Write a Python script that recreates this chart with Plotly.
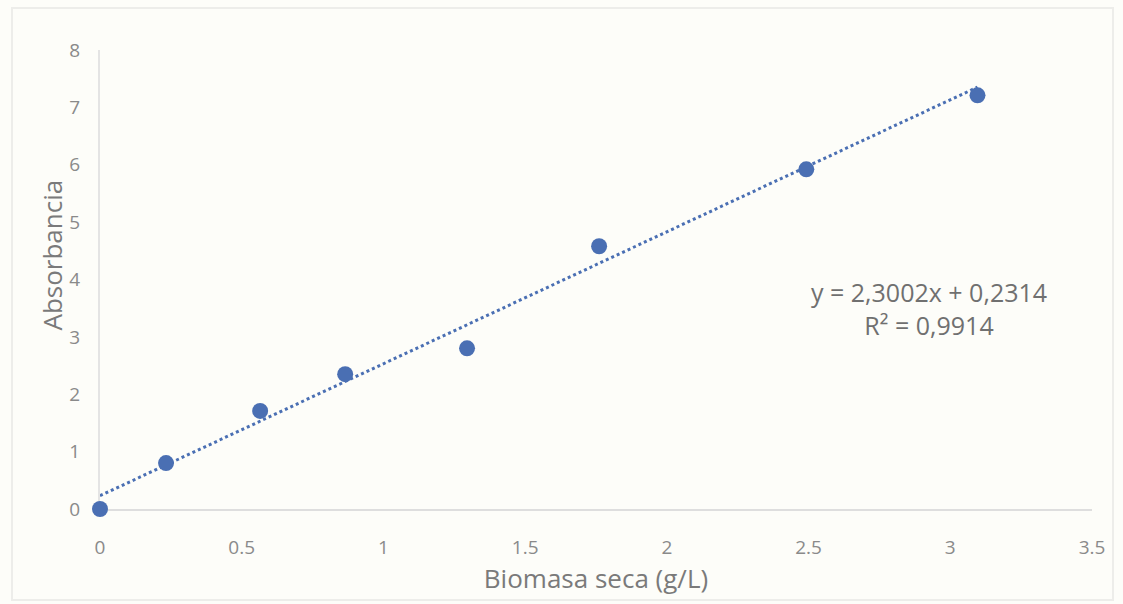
import plotly.graph_objects as go
import numpy as np

# Data
biomasa = [0.0, 0.233, 0.565, 0.865, 1.295, 1.761, 2.492, 3.096]
absorbancia = [0.0, 0.80, 1.71, 2.35, 2.80, 4.58, 5.92, 7.21]
slope, intercept = 2.3002, 0.2314
x_ticks = [0, 0.5, 1, 1.5, 2, 2.5, 3, 3.5]
y_ticks = [0, 1, 2, 3, 4, 5, 6, 7, 8]

blue = "#4A6FB3"
font = "Open Sans"

trend_x = np.array([min(biomasa), max(biomasa)])
trend_y = slope * trend_x + intercept

fig = go.Figure()
fig.add_trace(go.Scatter(x=trend_x, y=trend_y, mode="lines",
                         line=dict(color=blue, width=3, dash="dot"),
                         showlegend=False, hoverinfo="skip", cliponaxis=False))
fig.add_trace(go.Scatter(x=biomasa, y=absorbancia, mode="markers",
                         marker=dict(color=blue, size=16),
                         showlegend=False, cliponaxis=False))

fig.add_annotation(x=0.836, y=0.436, xref="paper", yref="paper",
                   xanchor="center", yanchor="middle",
                   text="y = 2,3002x + 0,2314<br>R² = 0,9914", showarrow=False,
                   font=dict(family=font, size=25, color="#707070"), align="center")

# y-axis title placed slightly above centre, as in the reference
fig.add_annotation(x=-0.048, y=0.553, xref="paper", yref="paper",
                   xanchor="center", yanchor="middle", textangle=-90,
                   text="Absorbancia", showarrow=False,
                   font=dict(family=font, size=26, color="#7a7a7a"))

fig.add_shape(type="rect", xref="paper", yref="paper",
              x0=-0.0887, x1=1.0212, y0=-0.198, y1=1.0915,
              line=dict(color="#ededea", width=2), layer="below")

fig.update_layout(
    width=1123, height=604,
    margin=dict(l=100, r=31, t=50, b=95),
    paper_bgcolor="#fdfdf9", plot_bgcolor="#fdfdf9",
    font=dict(family=font, color="#888888"),
    xaxis=dict(range=[0, 3.5], tickvals=x_ticks, ticktext=[str(v) for v in x_ticks],
               showgrid=False, zeroline=False, showline=True, linecolor="#dedede", linewidth=2,
               layer="below traces",
               ticks="outside", ticklen=20, tickcolor="rgba(0,0,0,0)",
               tickfont=dict(size=19, color="#8a8a8a"),
               title=dict(text="Biomasa seca (g/L)", font=dict(size=26, color="#7a7a7a"), standoff=4)),
    yaxis=dict(range=[0, 8], tickvals=y_ticks, showgrid=False, zeroline=False,
               showline=True, linecolor="#e4e4e4", linewidth=2, layer="below traces",
               ticks="outside", ticklen=14, tickcolor="rgba(0,0,0,0)",
               tickfont=dict(size=19, color="#8a8a8a")),
)

fig.write_html("out.html")
